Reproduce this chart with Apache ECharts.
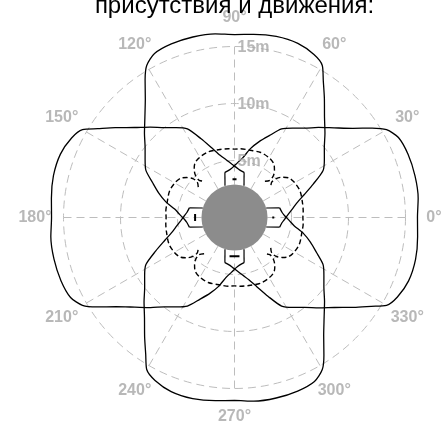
<!DOCTYPE html>
<html>
<head>
<meta charset="utf-8">
<script src="https://cdn.jsdelivr.net/npm/echarts@6/dist/echarts.min.js"></script>
<style>
  html, body { margin: 0; padding: 0; background: #fff; }
  #chart { width: 442px; height: 428px; }
</style>
</head>
<body>
<div id="chart"></div>
<script>
// Coverage of a four-sensor presence / motion detector, ranges in metres.
const titleText = 'присутствия и движения:';
const angleTicks = [0, 30, 60, 90, 120, 150, 180, 210, 240, 270, 300, 330];
const rangeTicks = [5, 10, 15];
const sensorHeadings = [0, 90, 180, 270];

// Motion zone of one sensor: bearing relative to its heading (deg) and range (m).
const motionOffsets = [-102, -96, -92, -87, -82, -77, -72, -67, -62, -57, -52, -47, -42, -37, -33, -30, -26, -20, -13, -6, 0,
                       6, 13, 20, 26, 30, 33, 37, 42, 47, 52, 57, 62, 67, 72, 77, 82, 87, 92, 96, 102];
const motionRange = [4.05, 4.2, 4.4, 4.7, 5.1, 5.6, 6.4, 7.5, 8.8, 9.4, 10.0, 10.85, 11.8, 13.1, 14.3, 15.4, 15.9, 16.25, 16.3, 16.15, 16.05,
                     16.2, 16.25, 16.2, 16.0, 15.4, 14.4, 13.0, 11.75, 10.8, 9.95, 9.35, 8.8, 7.8, 7.0, 6.2, 5.3, 4.8, 4.4, 4.2, 4.05];

// Presence zone of one sensor, same convention.
const presenceOffsets = [-40, -43.5, -43, -40, -36, -30, -22, -12, -5, 0, 5, 12, 22, 30, 36, 40, 43, 43.5, 40];
const presenceRange = [4.15, 4.5, 5.0, 5.45, 5.85, 6.05, 6.15, 6.05, 6.05, 6.0, 6.05, 6.1, 6.2, 6.1, 5.9, 5.5, 5.0, 4.5, 4.15];

// Detector housing.
const bodyRadius = 2.9;
const ringRadius = 4;
const podSideOffsets = [16.7, 12];      // bearing of a pod side at the body and at the ring
const podSideRange = [2.9, 4.05];
const markHalfSpan = [1.5, 3, 5, 7.3];  // lens marks, one per heading
const markRange = [3.4, 3.35, 3.47, 3.43];

const labelRadius = 17.5;

// Scale: the 15 m ring sits at 171 px; the drawing polar reaches 18 m so nothing falls off its axis.
const GRID_MAX = 15;
const DRAW_MAX = 18;
const center = [234.5, 217.5];
const gridRadiusPx = 171;
const drawRadiusPx = gridRadiusPx * DRAW_MAX / GRID_MAX;

const FONT = "'Liberation Sans', Arial, Helvetica, sans-serif";
const GRID = { color: '#bdbdbd', width: 1, type: [8, 5] };
const LABEL_GREY = '#a6a6a6';

const norm = a => ((a % 360) + 360) % 360;
const toPolar = (heading, offsets, ranges) => offsets.map((o, i) => [ranges[i], norm(heading + o)]);

const hidden = {
  axisLine: { show: false }, axisTick: { show: false },
  axisLabel: { show: false }, splitLine: { show: false }
};

const series = [];

// housing disk and ring (polar #1, single-category angle axis)
series.push({
  type: 'bar', coordinateSystem: 'polar', polarIndex: 1,
  data: [bodyRadius], barWidth: '100%', barGap: '-100%',
  itemStyle: { color: '#8c8c8c' }, silent: true, z: 3
});
series.push({
  type: 'bar', coordinateSystem: 'polar', polarIndex: 1,
  data: [ringRadius], barWidth: '100%', barGap: '-100%',
  itemStyle: { color: 'rgba(0,0,0,0)', borderColor: '#000', borderWidth: 1.2 }, silent: true, z: 3
});

const lineBase = {
  type: 'line', coordinateSystem: 'polar', polarIndex: 0,
  showSymbol: false, symbol: 'none', clip: false, silent: true, z: 4
};

sensorHeadings.forEach(h => {
  series.push(Object.assign({}, lineBase, {
    name: 'движение',
    data: toPolar(h, motionOffsets, motionRange),
    smooth: 0.25,
    lineStyle: { color: '#000', width: 1.3 }
  }));
  series.push(Object.assign({}, lineBase, {
    name: 'присутствие',
    data: toPolar(h, presenceOffsets, presenceRange),
    smooth: 0.3,
    lineStyle: { color: '#000', width: 1.4, type: [5, 3] }
  }));
  [-1, 1].forEach(side => {
    series.push(Object.assign({}, lineBase, {
      data: podSideRange.map((r, i) => [r, norm(h + side * podSideOffsets[i])]),
      lineStyle: { color: '#000', width: 1.2 }
    }));
  });
});

sensorHeadings.forEach((h, k) => {
  series.push(Object.assign({}, lineBase, {
    data: [[markRange[k], norm(h - markHalfSpan[k])], [markRange[k], norm(h + markHalfSpan[k])]],
    lineStyle: { color: '#000', width: 2, cap: 'butt' }
  }));
});

// bearing labels
series.push({
  type: 'scatter', coordinateSystem: 'polar', polarIndex: 0,
  data: angleTicks.map(a => [labelRadius, a]),
  symbolSize: 0, clip: false, silent: true, z: 5,
  itemStyle: { color: 'rgba(0,0,0,0)' },
  label: {
    show: true, position: 'inside',
    formatter: p => p.value[1] + '°',
    color: LABEL_GREY, fontSize: 16, fontWeight: 'bold', fontFamily: FONT
  }
});

// range labels
series.push({
  type: 'scatter', coordinateSystem: 'polar', polarIndex: 0,
  data: rangeTicks.map(r => [r, 90]),
  symbolSize: 0, clip: false, silent: true, z: 5,
  itemStyle: { color: 'rgba(0,0,0,0)' },
  label: {
    show: true, position: 'right', distance: 3, offset: [0, 1.5],
    formatter: p => p.value[0] + 'm',
    color: LABEL_GREY, fontSize: 16, fontWeight: 'bold', fontFamily: FONT
  }
});

const option = {
  animation: false,
  backgroundColor: '#fff',
  title: {
    text: titleText,
    left: 234.5, top: -6, textAlign: 'center', padding: 0,
    textStyle: { fontSize: 24, fontWeight: 'normal', color: '#000', fontFamily: FONT }
  },
  polar: [
    { center: center, radius: drawRadiusPx },   // 0: zone outlines and labels
    { center: center, radius: gridRadiusPx },   // 1: housing
    { center: center, radius: gridRadiusPx }    // 2: grid
  ],
  angleAxis: [
    Object.assign({ polarIndex: 0, type: 'value', min: 0, max: 360, startAngle: 0, clockwise: false }, hidden),
    Object.assign({ polarIndex: 1, type: 'category', data: ['body'], startAngle: 0 }, hidden),
    Object.assign({ polarIndex: 2, type: 'value', min: 0, max: 360, interval: 30, startAngle: 0, clockwise: false }, hidden,
      { splitLine: { show: true, lineStyle: GRID } })
  ],
  radiusAxis: [
    Object.assign({ polarIndex: 0, type: 'value', min: 0, max: DRAW_MAX }, hidden),
    Object.assign({ polarIndex: 1, type: 'value', min: 0, max: GRID_MAX }, hidden),
    Object.assign({ polarIndex: 2, type: 'value', min: 0, max: GRID_MAX, interval: 5 }, hidden,
      { splitLine: { show: true, lineStyle: GRID } })
  ],
  series: series
};

const chart = echarts.init(document.getElementById('chart'), null, { renderer: 'canvas' });
chart.setOption(option);
</script>
</body>
</html>
